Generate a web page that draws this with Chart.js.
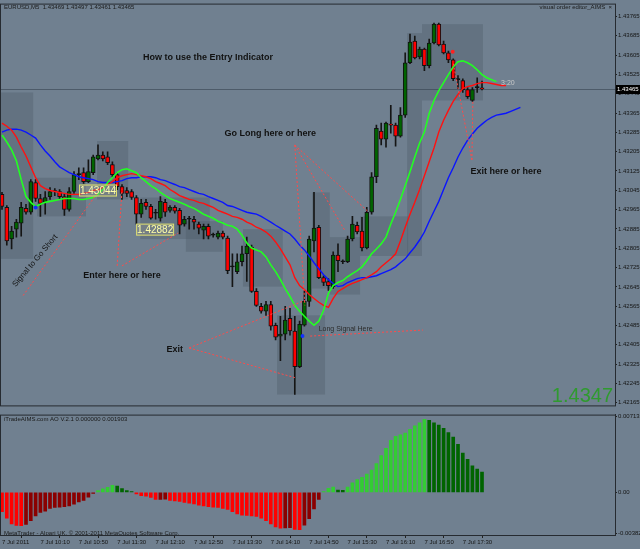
<!DOCTYPE html>
<html>
<head>
<meta charset="utf-8">
<script src="https://cdn.jsdelivr.net/npm/chart.js@4.4.1/dist/chart.umd.min.js"></script>
<style>
  html, body { margin: 0; padding: 0; background: #708090; }
  #wrap { position: relative; width: 640px; height: 549px; background: #708090; overflow: hidden; }
  #priceChart { position: absolute; left: 0; top: 0; }
  #aoChart { position: absolute; left: 0; top: 410px; }
</style>
</head>
<body>
<div id="wrap">
  <canvas id="priceChart" width="640" height="410"></canvas>
  <canvas id="aoChart" width="640" height="139"></canvas>
</div>
<script>
// EURUSD M5, 7 Jul 2011, 09:30 .. 17:50
const opens = [1.43028,1.42974,1.42843,1.42884,1.42909,1.42970,1.42954,1.43077,1.43011,1.42995,
  1.43019,1.43040,1.43040,1.43019,1.42966,1.43040,1.43110,1.43118,1.43081,1.43118,
  1.43175,1.43191,1.43183,1.43151,1.43110,1.43060,1.43044,1.43040,1.43015,1.42946,
  1.42995,1.42978,1.42950,1.42929,1.42995,1.42962,1.42974,1.42962,1.42905,1.42925,
  1.42925,1.42905,1.42880,1.42896,1.42859,1.42851,1.42868,1.42847,1.42728,1.42708,
  1.42749,1.42782,1.42810,1.42626,1.42564,1.42544,1.42572,1.42486,1.42441,1.42449,
  1.42515,1.42462,1.42314,1.42486,1.42585,1.42835,1.42892,1.42683,1.42667,1.42646,
  1.42777,1.42749,1.42749,1.42843,1.42900,1.42876,1.42806,1.42954,1.43101,1.43290,
  1.43257,1.43319,1.43315,1.43269,1.43356,1.43573,1.43663,1.43597,1.43630,1.43561,
  1.43655,1.43733,1.43651,1.43614,1.43585,1.43503,1.43499,1.43462,1.43417,1.43470,1.43469];
const highs = [1.43036,1.42982,1.42896,1.42925,1.42995,1.42987,1.43089,1.43089,1.43028,1.43040,
  1.43056,1.43052,1.43048,1.43028,1.43056,1.43122,1.43138,1.43138,1.43171,1.43191,
  1.43233,1.43204,1.43204,1.43163,1.43118,1.43069,1.43056,1.43048,1.43023,1.43007,
  1.43007,1.42987,1.42966,1.43019,1.43007,1.42982,1.42982,1.42970,1.42937,1.42937,
  1.42937,1.42913,1.42905,1.42905,1.42868,1.42876,1.42876,1.42855,1.42782,1.42782,
  1.42814,1.42851,1.42818,1.42638,1.42577,1.42585,1.42585,1.42495,1.42523,1.42564,
  1.42556,1.42523,1.42503,1.42630,1.42855,1.43036,1.42900,1.42691,1.42679,1.42790,
  1.42823,1.42757,1.42855,1.42937,1.42913,1.42933,1.42974,1.43118,1.43315,1.43323,
  1.43327,1.43397,1.43323,1.43388,1.43614,1.43692,1.43684,1.43638,1.43634,1.43671,
  1.43737,1.43737,1.43663,1.43622,1.43589,1.43520,1.43507,1.43470,1.43470,1.43511,1.43497];
const lows = [1.42966,1.42818,1.42802,1.42851,1.42855,1.42946,1.42946,1.42999,1.42937,1.42946,
  1.43007,1.43023,1.43007,1.42941,1.42958,1.43032,1.43089,1.43073,1.43077,1.43110,
  1.43171,1.43167,1.43151,1.43101,1.43048,1.43007,1.43019,1.43007,1.42905,1.42933,
  1.42966,1.42925,1.42925,1.42917,1.42937,1.42954,1.42950,1.42864,1.42896,1.42884,
  1.42884,1.42864,1.42843,1.42843,1.42851,1.42843,1.42843,1.42700,1.42646,1.42700,
  1.42732,1.42667,1.42622,1.42564,1.42536,1.42527,1.42466,1.42425,1.42339,1.42425,
  1.42445,1.42199,1.42310,1.42482,1.42564,1.42790,1.42679,1.42650,1.42630,1.42638,
  1.42708,1.42741,1.42745,1.42835,1.42864,1.42794,1.42802,1.42946,1.43077,1.43233,
  1.43224,1.43282,1.43228,1.43265,1.43347,1.43569,1.43589,1.43589,1.43540,1.43552,
  1.43651,1.43643,1.43610,1.43573,1.43499,1.43466,1.43450,1.43425,1.43413,1.43450,1.43461];
const closes = [1.42978,1.42835,1.42876,1.42913,1.42974,1.42954,1.43081,1.43011,1.42991,1.43015,
  1.43040,1.43040,1.43019,1.42966,1.43040,1.43110,1.43110,1.43081,1.43122,1.43183,
  1.43191,1.43175,1.43159,1.43110,1.43060,1.43032,1.43032,1.43015,1.42946,1.42991,
  1.42978,1.42929,1.42950,1.42999,1.42954,1.42974,1.42958,1.42900,1.42925,1.42925,
  1.42913,1.42888,1.42896,1.42855,1.42859,1.42868,1.42851,1.42712,1.42728,1.42749,
  1.42782,1.42814,1.42626,1.42568,1.42544,1.42572,1.42482,1.42437,1.42449,1.42507,
  1.42462,1.42314,1.42490,1.42585,1.42843,1.42888,1.42683,1.42663,1.42650,1.42777,
  1.42753,1.42749,1.42843,1.42905,1.42872,1.42806,1.42954,1.43101,1.43302,1.43257,
  1.43323,1.43315,1.43269,1.43356,1.43573,1.43659,1.43593,1.43630,1.43561,1.43655,
  1.43733,1.43647,1.43614,1.43585,1.43507,1.43503,1.43462,1.43433,1.43462,1.43470,1.43465];

// moving averages (drawn shifted forward, so they run past the last bar)
const fastMA = [1.43274,1.43245,1.43212,1.43167,1.43089,1.43019,1.42995,1.42978,1.42987,1.42995,
  1.42999,1.43003,1.43007,1.43011,1.43011,1.43011,1.43007,1.43007,1.43011,1.43015,
  1.43028,1.43048,1.43077,1.43097,1.43118,1.43130,1.43134,1.43126,1.43118,1.43097,
  1.43081,1.43064,1.43052,1.43036,1.43023,1.43011,1.43003,1.42995,1.42987,1.42978,
  1.42970,1.42958,1.42946,1.42937,1.42929,1.42917,1.42909,1.42900,1.42896,1.42884,
  1.42859,1.42827,1.42806,1.42798,1.42790,1.42769,1.42736,1.42708,1.42675,1.42638,
  1.42605,1.42568,1.42544,1.42523,1.42503,1.42486,1.42503,1.42548,1.42618,1.42650,
  1.42663,1.42671,1.42687,1.42700,1.42712,1.42728,1.42753,1.42782,1.42802,1.42823,
  1.42851,1.42905,1.42954,1.43007,1.43064,1.43122,1.43183,1.43241,1.43286,1.43364,
  1.43417,1.43458,1.43491,1.43524,1.43556,1.43577,1.43581,1.43573,1.43561,1.43544,
  1.43524,1.43511,1.43503,1.43495];
const midMA = [1.43323,1.43310,1.43294,1.43265,1.43224,1.43187,1.43142,1.43097,1.43064,1.43052,
  1.43044,1.43040,1.43036,1.43032,1.43028,1.43028,1.43028,1.43032,1.43036,1.43044,
  1.43048,1.43056,1.43069,1.43081,1.43097,1.43105,1.43110,1.43114,1.43110,1.43105,
  1.43101,1.43093,1.43081,1.43073,1.43064,1.43048,1.43036,1.43023,1.43015,1.43007,
  1.43003,1.42995,1.42991,1.42982,1.42974,1.42962,1.42954,1.42946,1.42937,1.42933,
  1.42925,1.42913,1.42905,1.42892,1.42884,1.42872,1.42855,1.42831,1.42802,1.42769,
  1.42736,1.42683,1.42650,1.42634,1.42613,1.42597,1.42581,1.42568,1.42560,1.42597,
  1.42626,1.42638,1.42650,1.42659,1.42667,1.42675,1.42683,1.42695,1.42708,1.42728,
  1.42745,1.42761,1.42782,1.42835,1.42892,1.42946,1.42995,1.43048,1.43105,1.43163,
  1.43220,1.43286,1.43335,1.43376,1.43413,1.43442,1.43466,1.43474,1.43479,1.43487,
  1.43491,1.43491,1.43487,1.43483,1.43479,1.43479];
const slowMA = [1.43286,1.43294,1.43298,1.43298,1.43294,1.43286,1.43274,1.43261,1.43233,1.43208,
  1.43187,1.43163,1.43142,1.43130,1.43118,1.43110,1.43101,1.43097,1.43093,1.43089,
  1.43081,1.43077,1.43077,1.43077,1.43081,1.43085,1.43093,1.43097,1.43097,1.43101,
  1.43101,1.43101,1.43097,1.43089,1.43085,1.43077,1.43069,1.43060,1.43056,1.43048,
  1.43040,1.43032,1.43028,1.43019,1.43011,1.43003,1.42995,1.42982,1.42978,1.42970,
  1.42962,1.42954,1.42950,1.42946,1.42937,1.42925,1.42913,1.42900,1.42888,1.42876,
  1.42864,1.42843,1.42818,1.42798,1.42773,1.42745,1.42720,1.42695,1.42675,1.42659,
  1.42646,1.42650,1.42663,1.42671,1.42679,1.42683,1.42683,1.42687,1.42691,1.42700,
  1.42708,1.42716,1.42728,1.42745,1.42761,1.42786,1.42810,1.42839,1.42872,1.42917,
  1.42958,1.42999,1.43048,1.43097,1.43138,1.43183,1.43220,1.43253,1.43278,1.43302,
  1.43319,1.43335,1.43347,1.43356,1.43360,1.43364,1.43372,1.43380,1.43388];

// iTradeAIMS AO histogram
const aoValues = [-0.00181,-0.00241,-0.00295,-0.00309,-0.00312,-0.00301,-0.00265,-0.00220,-0.00187,-0.00175,
  -0.00150,-0.00142,-0.00138,-0.00134,-0.00126,-0.00111,-0.00090,-0.00075,-0.00045,-0.00010,
  0.00018,0.00033,0.00048,0.00066,0.00060,0.00036,0.00018,0.00009,-0.00015,-0.00030,
  -0.00036,-0.00048,-0.00066,-0.00065,-0.00064,-0.00075,-0.00081,-0.00084,-0.00093,-0.00102,
  -0.00108,-0.00120,-0.00126,-0.00135,-0.00138,-0.00142,-0.00150,-0.00160,-0.00181,-0.00202,
  -0.00214,-0.00217,-0.00220,-0.00226,-0.00241,-0.00265,-0.00295,-0.00325,-0.00337,-0.00334,
  -0.00331,-0.00347,-0.00350,-0.00307,-0.00247,-0.00156,-0.00066,0.00009,0.00039,0.00051,
  0.00021,0.00020,0.00051,0.00090,0.00120,0.00142,0.00172,0.00211,0.00271,0.00346,
  0.00413,0.00490,0.00527,0.00542,0.00557,0.00593,0.00626,0.00653,0.00686,0.00677,
  0.00653,0.00632,0.00602,0.00563,0.00521,0.00452,0.00370,0.00310,0.00250,0.00220,0.00190];

const priceTicks = [1.42165,1.42245,1.42325,1.42405,1.42485,1.42565,1.42645,1.42725,1.42805,1.42885,
  1.42965,1.43045,1.43125,1.43205,1.43285,1.43365,1.43445,1.43525,1.43605,1.43685,1.43765];
const aoTicks = [-0.00382, 0, 0.00713];
const timeLabels = ['7 Jul 2011','7 Jul 10:10','7 Jul 10:50','7 Jul 11:30','7 Jul 12:10','7 Jul 12:50',
  '7 Jul 13:30','7 Jul 14:10','7 Jul 14:50','7 Jul 15:30','7 Jul 16:10','7 Jul 16:50','7 Jul 17:30'];
const bigPriceText = '1.4347';

// objects drawn on the chart by hand (bar index, price)
const shadeBoxes = [
  [-0.4, 6.5, 1.43450, 1.42761], [7.3, 17.5, 1.43097, 1.42937], [19.8, 26.3, 1.43249, 1.43007],
  [28.8, 43.3, 1.43015, 1.42843], [38.3, 46.0, 1.42917, 1.42790], [50.2, 58.5, 1.42884, 1.42646],
  [57.3, 67.3, 1.42527, 1.42199], [64.6, 68.3, 1.43036, 1.42638], [68.3, 74.6, 1.42851, 1.42613],
  [74.6, 84.6, 1.42937, 1.42773], [84.4, 87.5, 1.43696, 1.42773], [87.5, 100.2, 1.43733, 1.43417]
];
const trendLines = [
  [4.4, 1.42609, 20.4, 1.43048], [24.0, 1.42732, 25.0, 1.43048], [25.0, 1.42732, 36.7, 1.42868],
  [61.0, 1.43232, 76.2, 1.42958], [61.0, 1.43232, 71.5, 1.42876], [61.0, 1.43232, 63.1, 1.42568],
  [39.0, 1.42392, 63.1, 1.42589], [39.0, 1.42392, 61.0, 1.42269], [64.2, 1.42441, 87.7, 1.42466],
  [97.9, 1.43171, 94.0, 1.43573], [97.9, 1.43171, 98.1, 1.43417]
];
const boldNotes = [
  ['How to use the Entry Indicator', 42.9, 1.43593],
  ['Go Long here or here', 55.9, 1.43282],
  ['Enter here or here', 25.0, 1.42691],
  ['Exit', 36.0, 1.42384],
  ['Exit here or here', 105.0, 1.43122]
];
const priceLabels = [['1.43044', 20.0, 1.43044], ['1.42882', 31.9, 1.42882]];
const signals = [[7.0, 1.42974, '#1030ff'], [62.6, 1.42441, '#1030ff'], [93.9, 1.43619, '#ff2020']];

const FONT = 'Liberation Sans, Arial, sans-serif';
const xMin = -0.2083, xMax = 127.708;
const barIdx = opens.map((_, i) => i);
const bodyColors = opens.map((o, i) => closes[i] > o ? '#006400' : (closes[i] < o ? '#ff0000' : '#111111'));
const aoColors = aoValues.map((v, i) => {
  const up = i > 0 && v > aoValues[i - 1];
  if (v >= 0) return up ? '#33cc33' : '#006400';
  return up ? '#8b0000' : '#ff0000';
});

function txt(ctx, s, x, y, font, color, align) {
  ctx.font = font;
  ctx.fillStyle = color;
  ctx.textAlign = align || 'center';
  ctx.textBaseline = 'middle';
  ctx.fillText(s, x, y);
}

const priceDecor = {
  id: 'priceDecor',
  beforeDatasetsDraw(chart) {
    const {ctx, chartArea: a, scales: {x, y}} = chart;
    ctx.save();
    ctx.beginPath();
    ctx.rect(a.left, a.top, a.right - a.left, a.bottom - a.top);
    ctx.clip();
    ctx.fillStyle = 'rgba(70,82,96,0.3)';
    shadeBoxes.forEach(b => {
      const x1 = x.getPixelForValue(b[0]), x2 = x.getPixelForValue(b[1]);
      const y1 = y.getPixelForValue(b[2]), y2 = y.getPixelForValue(b[3]);
      ctx.fillRect(x1, y1, x2 - x1, y2 - y1);
    });
    // bid line
    const yb = Math.round(y.getPixelForValue(closes[closes.length - 1])) + 0.5;
    ctx.strokeStyle = 'rgba(50,60,72,0.55)';
    ctx.lineWidth = 1;
    ctx.beginPath(); ctx.moveTo(a.left, yb); ctx.lineTo(a.right, yb); ctx.stroke();
    ctx.restore();
  },
  afterDraw(chart) {
    const {ctx, chartArea: a, scales: {x, y}} = chart;
    const px = v => x.getPixelForValue(v), py = v => y.getPixelForValue(v);
    ctx.save();
    ctx.beginPath();
    ctx.rect(a.left, a.top, a.right - a.left, a.bottom - a.top);
    ctx.clip();

    ctx.strokeStyle = '#ff4a4a';
    ctx.lineWidth = 1;
    ctx.setLineDash([2, 2]);
    trendLines.forEach(l => {
      ctx.beginPath(); ctx.moveTo(px(l[0]), py(l[1])); ctx.lineTo(px(l[2]), py(l[3])); ctx.stroke();
    });
    ctx.setLineDash([]);

    boldNotes.forEach(n => txt(ctx, n[0], px(n[1]), py(n[2]), 'bold 9px ' + FONT, '#111111'));
    txt(ctx, 'Long Signal Here', px(71.6), py(1.42470), '7px ' + FONT, '#2b2b2b');
    txt(ctx, '3:20', px(105.4), py(1.43491), '7px ' + FONT, '#c8c8c8');

    ctx.save();
    ctx.translate(px(6.9), py(1.42753));
    ctx.rotate(-50 * Math.PI / 180);
    txt(ctx, 'Signal to Go Short', 0, 0, '8px ' + FONT, '#151515');
    ctx.restore();

    priceLabels.forEach(l => {
      const cx = px(l[1]), cy = py(l[2]);
      ctx.fillStyle = 'rgba(150,150,140,0.35)';
      ctx.fillRect(cx - 19, cy - 6, 38, 12);
      ctx.strokeStyle = '#e0e070';
      ctx.strokeRect(cx - 19 + 0.5, cy - 6 + 0.5, 37, 11);
      txt(ctx, l[0], cx, cy + 0.5, '10px ' + FONT, '#ffffa8');
    });

    signals.forEach(s => {
      ctx.fillStyle = s[2];
      ctx.beginPath(); ctx.arc(px(s[0]), py(s[1]), 2, 0, Math.PI * 2); ctx.fill();
    });

    ctx.font = '20px ' + FONT;
    ctx.fillStyle = '#2f9a2f';
    ctx.textAlign = 'right';
    ctx.textBaseline = 'alphabetic';
    ctx.fillText(bigPriceText, a.right - 2, a.bottom - 3);
    ctx.restore();

    txt(ctx, 'EURUSD,M5  1.43469 1.43497 1.43461 1.43465', a.left + 3, 7, '6px ' + FONT, '#1a1a1a', 'left');
    txt(ctx, 'visual order editor_AIMS  \u00d7', a.right - 3, 7, '6px ' + FONT, '#1a1a1a', 'right');

    // current price marker on the axis
    const yc = Math.round(py(closes[closes.length - 1]));
    ctx.fillStyle = '#000';
    ctx.fillRect(a.right + 1, yc - 4, 640 - a.right - 1, 9);
    txt(ctx, closes[closes.length - 1].toFixed(5), a.right + 2, yc + 0.5, '6px ' + FONT, '#ffffff', 'left');

    ctx.strokeStyle = '#262b31';
    ctx.lineWidth = 1;
    ctx.strokeRect(a.left - 0.5, a.top - 0.5, a.right - a.left + 1, a.bottom - a.top + 1);
  }
};

const aoDecor = {
  id: 'aoDecor',
  afterDraw(chart) {
    const {ctx, chartArea: a} = chart;
    ctx.save();
    txt(ctx, 'iTradeAIMS.com AO V.2.1 0.000000 0.001903', a.left + 3, a.top + 5, '6px ' + FONT, '#1a1a1a', 'left');
    txt(ctx, 'MetaTrader - Alpari UK, \u00a9 2001-2011 MetaQuotes Software Corp.', a.left + 3, a.bottom - 2, '6px ' + FONT, '#1a1a1a', 'left');
    ctx.strokeStyle = '#262b31';
    ctx.lineWidth = 1;
    ctx.strokeRect(a.left - 0.5, a.top + 0.5, a.right - a.left + 1, a.bottom - a.top);
    ctx.restore();
  }
};

new Chart(document.getElementById('priceChart').getContext('2d'), {
  type: 'bar',
  data: {
    datasets: [
      { type: 'line', label: 'fast', data: fastMA.map((v, i) => ({x: i, y: v})), borderColor: '#22ff22',
        borderWidth: 1.6, pointRadius: 0, tension: 0, order: 0 },
      { type: 'line', label: 'mid', data: midMA.map((v, i) => ({x: i, y: v})), borderColor: '#ff1010',
        borderWidth: 1.4, pointRadius: 0, tension: 0, order: 0 },
      { type: 'line', label: 'slow', data: slowMA.map((v, i) => ({x: i, y: v})), borderColor: '#0a14ff',
        borderWidth: 1.4, pointRadius: 0, tension: 0, order: 0 },
      { label: 'bodies', data: barIdx.map(i => ({x: i, y: [opens[i], closes[i]]})), backgroundColor: bodyColors,
        borderColor: '#111111', borderWidth: 1, borderSkipped: false, barThickness: 4, minBarLength: 1,
        grouped: false, order: 1 },
      { label: 'wicks', data: barIdx.map(i => ({x: i, y: [lows[i], highs[i]]})), backgroundColor: '#151515',
        barThickness: 1, grouped: false, order: 2 }
    ]
  },
  options: {
    responsive: false,
    animation: false,
    devicePixelRatio: 1,
    layout: { padding: { left: 1, top: 3, right: 0, bottom: 2 } },
    plugins: { legend: { display: false }, tooltip: { enabled: false } },
    scales: {
      x: { type: 'linear', min: xMin, max: xMax, offset: false, display: false },
      y: {
        type: 'linear', position: 'right', min: 1.42154, max: 1.43814,
        afterBuildTicks: s => { s.ticks = priceTicks.map(v => ({value: v})); },
        afterFit: s => { s.width = 25; },
        ticks: { font: { family: FONT, size: 6 }, color: '#151515', padding: 1, callback: v => v.toFixed(5) },
        grid: { drawOnChartArea: false, tickLength: 2, color: '#222' },
        border: { display: true, color: '#262b31' }
      }
    }
  },
  plugins: [priceDecor]
});

new Chart(document.getElementById('aoChart').getContext('2d'), {
  type: 'bar',
  data: {
    datasets: [{ label: 'AO', data: aoValues.map((v, i) => ({x: i, y: v})), backgroundColor: aoColors,
      barThickness: 3, grouped: false }]
  },
  options: {
    responsive: false,
    animation: false,
    devicePixelRatio: 1,
    layout: { padding: { left: 1, top: 0, right: 0, bottom: 0 } },
    plugins: { legend: { display: false }, tooltip: { enabled: false } },
    scales: {
      x: {
        type: 'linear', min: xMin, max: xMax, offset: false, position: 'bottom',
        afterBuildTicks: s => { s.ticks = timeLabels.map((_, k) => ({value: k * 8})); },
        afterFit: s => { s.height = 14; },
        ticks: { align: 'start', maxRotation: 0, autoSkip: false, padding: 1,
          font: { family: FONT, size: 6 }, color: '#151515', callback: (v, k) => timeLabels[k] },
        grid: { drawOnChartArea: false, tickLength: 3, color: '#222' },
        border: { display: true, color: '#262b31' }
      },
      y: {
        type: 'linear', position: 'right', min: -0.0040, max: 0.00731,
        afterBuildTicks: s => { s.ticks = aoTicks.map(v => ({value: v})); },
        afterFit: s => { s.width = 25; },
        ticks: { font: { family: FONT, size: 6 }, color: '#151515', padding: 1,
          callback: v => v === 0 ? '0.00' : v.toFixed(5) },
        grid: { drawOnChartArea: false, tickLength: 2, color: '#222' },
        border: { display: true, color: '#262b31' }
      }
    }
  },
  plugins: [aoDecor]
});
</script>
</body>
</html>
